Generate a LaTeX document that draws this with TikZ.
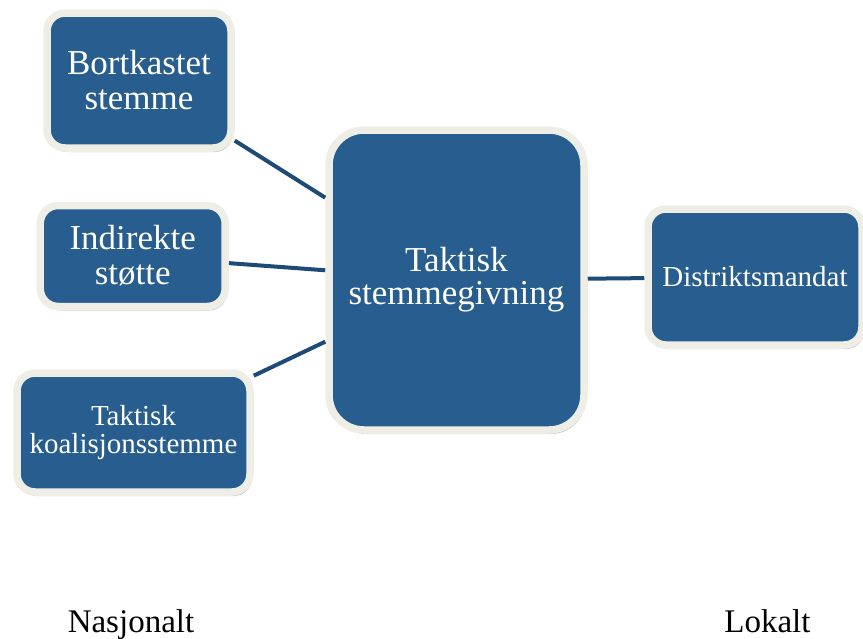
\documentclass[tikz,border=0pt]{standalone}
\usepackage{fontspec}
\setmainfont{Liberation Serif}
\usetikzlibrary{shadows}
\definecolor{boxblue}{RGB}{39,93,143}
\definecolor{rimcream}{RGB}{239,238,230}
\definecolor{linkblue}{RGB}{30,74,120}
\begin{document}
\begin{tikzpicture}[x=1pt,y=-1pt,
    boks/.style={draw=rimcream,line width=7.5pt,fill=boxblue,rounded corners=18pt,
      text=white!96!yellow,align=center,inner sep=0pt,
      drop shadow={shadow xshift=2pt,shadow yshift=-4pt,opacity=0.3,fill=black!70}},
    stor/.style={font=\fontsize{35}{35}\selectfont},
    liten/.style={font=\fontsize{29}{27.5}\selectfont},
    lenke/.style={draw=linkblue,line width=4pt}]
                \useasboundingbox (0,0) rectangle (863,638);
                \node[boks,stor,minimum width=184pt,minimum height=135pt] (bort) at (139,80.5) {Bortkastet\\stemme};
                \node[boks,stor,minimum width=185pt,minimum height=101pt] (ind) at (132.7,256) {Indirekte\\støtte};
                \node[boks,liten,minimum width=233pt,minimum height=119pt] (koal) at (133.5,432.5) {Taktisk\\koalisjonsstemme};
                \node[boks,stor,font=\fontsize{35}{33}\selectfont,rounded corners=35pt,minimum width=255pt,minimum height=300pt] (tak) at (456.5,280) {Taktisk\\stemmegivning};
                \node[boks,liten,minimum width=214pt,minimum height=136pt] (dist) at (755,277) {Distriktsmandat};
                \draw[lenke] (bort) -- (tak);
                \draw[lenke] (ind) -- (tak);
                \draw[lenke] (koal) -- (tak);
                \draw[lenke] (tak) -- (dist);
                \node[font=\fontsize{33}{33}\selectfont,anchor=base] (nasj) at (131,632) {Nasjonalt};
                \node[font=\fontsize{33}{33}\selectfont,anchor=base] (lok) at (767.5,632) {Lokalt};
            \end{tikzpicture}
\end{document}
